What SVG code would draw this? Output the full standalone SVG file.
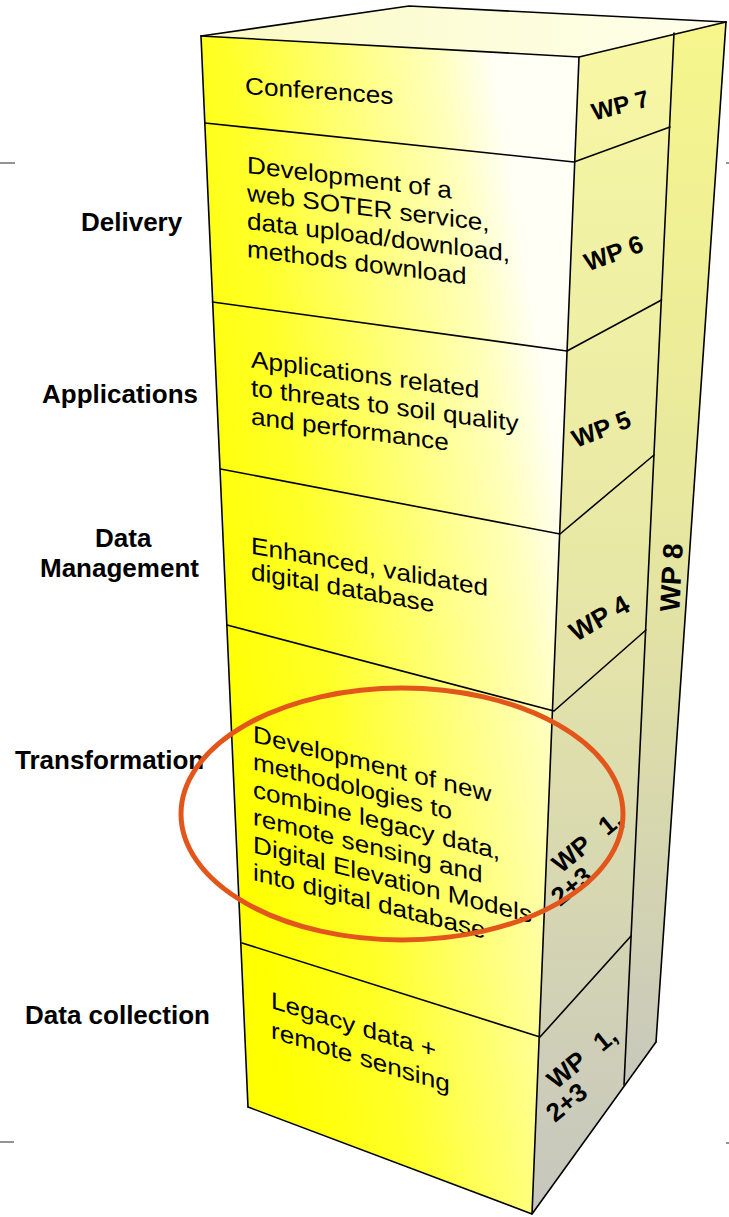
<svg xmlns="http://www.w3.org/2000/svg" width="729" height="1217" viewBox="0 0 729 1217">
  <style>
    .edge{fill:none;stroke:#000;stroke-width:1.6;stroke-linejoin:round;stroke-linecap:round}
    .tick{stroke:#7a7a7a;stroke-width:1.6}
    .lbl{font-family:"Liberation Sans",Arial,sans-serif;font-weight:bold;font-size:26px;fill:#000}
    .body{font-family:"Liberation Sans",Arial,sans-serif;font-size:24px;fill:#000}
    .wp{font-family:"Liberation Sans",Arial,sans-serif;font-weight:bold;fill:#000}
  </style>
  <defs>
    <linearGradient id="frontFill" gradientUnits="userSpaceOnUse" x1="205" y1="620" x2="575" y2="560">
      <stop offset="0" stop-color="#ffff00"/>
      <stop offset="0.3" stop-color="#ffff28"/>
      <stop offset="0.65" stop-color="#ffff88"/>
      <stop offset="0.85" stop-color="#ffffbc"/>
      <stop offset="1" stop-color="#fffff6"/>
    </linearGradient>
    <linearGradient id="sideFill" gradientUnits="userSpaceOnUse" x1="0" y1="40" x2="0" y2="1210">
      <stop offset="0" stop-color="#f7f7a4"/>
      <stop offset="0.45" stop-color="#e8e8a6"/>
      <stop offset="1" stop-color="#c6c6be"/>
    </linearGradient>
    <linearGradient id="columnFill" gradientUnits="userSpaceOnUse" x1="0" y1="25" x2="0" y2="1085">
      <stop offset="0" stop-color="#f6f68c"/>
      <stop offset="0.5" stop-color="#e6e6a2"/>
      <stop offset="1" stop-color="#c8c8bc"/>
    </linearGradient>
    <linearGradient id="topFill" gradientUnits="userSpaceOnUse" x1="201" y1="30" x2="726" y2="30">
      <stop offset="0" stop-color="#fafac4"/>
      <stop offset="1" stop-color="#ffffec"/>
    </linearGradient>
  </defs>

  <!-- margin ticks -->
  <g id="margin-ticks">
    <line class="tick" x1="0" y1="163" x2="15" y2="163"/>
    <line class="tick" x1="0" y1="1142" x2="14" y2="1142"/>
    <line class="tick" x1="726" y1="163" x2="729" y2="163"/>
    <line class="tick" x1="726" y1="1143" x2="729" y2="1143"/>
  </g>

  <!-- tower faces -->
  <g id="tower-faces">
    <polygon points="201,36 409,6 726,22 579,57" fill="url(#topFill)"/>
    <polygon points="201,36 579,57 532,1214 248,1107" fill="url(#frontFill)"/>
    <polygon points="579,57 674,33 624,1085 532,1214" fill="url(#sideFill)"/>
    <polygon points="674,33 726,22 656,1042 624,1085" fill="url(#columnFill)"/>
  </g>

  <!-- outlines and layer boundaries -->
  <g id="edges" class="edge">
    <polyline points="201,36 409,6 726,22"/>
    <polyline points="201,36 579,57 726,22"/>
    <line x1="201" y1="36" x2="248" y2="1107"/>
    <line x1="579" y1="57" x2="532" y2="1214"/>
    <line x1="674" y1="33" x2="624" y2="1085"/>
    <line x1="726" y1="22" x2="656" y2="1042"/>
    <polyline points="248,1107 532,1214 656,1042"/>
    <polyline points="205,123 574,162 670,127"/>
    <polyline points="212.5,302 567,351 661.5,300"/>
    <polyline points="220.5,469 560,534 654,455"/>
    <polyline points="227,625 554,711 646,630"/>
    <polyline points="242,943 540,1037 631,936"/>
  </g>

  <g id="layer-wp7">
    <text class="body" transform="translate(245,94) skewY(3.9) scale(1.09,1)">Conferences</text>
    <text class="wp" font-size="24" transform="translate(594,120.5) rotate(-14.5)">WP 7</text>
  </g>

  <g id="layer-wp6">
    <text class="lbl" x="81" y="231">Delivery</text>
    <text class="body" transform="translate(247,173) skewY(7.1) scale(1.09,1)">
      <tspan x="0" y="0">Development of a</tspan>
      <tspan x="0" dy="28">web SOTER service,</tspan>
      <tspan x="0" dy="28">data upload/download,</tspan>
      <tspan x="0" dy="28">methods download</tspan>
    </text>
    <text class="wp" font-size="25" transform="translate(588,271.5) rotate(-20)">WP 6</text>
  </g>

  <g id="layer-wp5">
    <text class="lbl" x="42" y="403">Applications</text>
    <text class="body" transform="translate(251,367.5) skewY(7.6) scale(1.09,1)">
      <tspan x="0" y="0">Applications related</tspan>
      <tspan x="0" dy="28.4">to threats to soil quality</tspan>
      <tspan x="0" dy="28.4">and performance</tspan>
    </text>
    <text class="wp" font-size="25" transform="translate(576,448) rotate(-21)">WP 5</text>
  </g>

  <g id="layer-wp4">
    <text class="lbl" x="95" y="547">Data</text>
    <text class="lbl" x="40" y="577">Management</text>
    <text class="body" transform="translate(251,553.5) skewY(10.2) scale(1.09,1)">
      <tspan x="0" y="0">Enhanced, validated</tspan>
      <tspan x="0" dy="26">digital database</tspan>
    </text>
    <text class="wp" font-size="26.5" transform="translate(576,642) rotate(-30)">WP 4</text>
  </g>

  <g id="layer-transformation">
    <text class="lbl" x="15" y="769">Transformation</text>
    <text class="body" transform="translate(253,742) skewY(14.2) scale(1.09,1)">
      <tspan x="0" y="0">Development of new</tspan>
      <tspan x="0" dy="27.6">methodologies to</tspan>
      <tspan x="0" dy="27.6">combine legacy data,</tspan>
      <tspan x="0" dy="27.6">remote sensing and</tspan>
      <tspan x="0" dy="27.6">Digital Elevation Models</tspan>
      <tspan x="0" dy="27.6">into digital database</tspan>
    </text>
    <text class="wp" font-size="26" transform="translate(561,874) rotate(-39)">WP <tspan dx="11">1,</tspan></text>
    <text class="wp" font-size="26" transform="translate(560,907) rotate(-39)">2+3</text>
  </g>

  <g id="layer-collection">
    <text class="lbl" x="25" y="1024">Data collection</text>
    <text class="body" transform="translate(271,1008) skewY(17) scale(1.09,1)">
      <tspan x="0" y="0">Legacy data +</tspan>
      <tspan x="0" dy="30">remote sensing</tspan>
    </text>
    <text class="wp" font-size="26" transform="translate(556,1090) rotate(-39)">WP <tspan dx="11">1,</tspan></text>
    <text class="wp" font-size="26" transform="translate(555,1123) rotate(-39)">2+3</text>
  </g>

  <g id="column-wp8">
    <text class="wp" font-size="28" text-anchor="middle" transform="translate(681,578) rotate(-87)">WP 8</text>
  </g>

  <!-- emphasis ring around the transformation layer -->
  <g id="highlight">
    <ellipse cx="402" cy="814" rx="221" ry="126" fill="none" stroke="#e3561b" stroke-width="5"/>
  </g>
</svg>
